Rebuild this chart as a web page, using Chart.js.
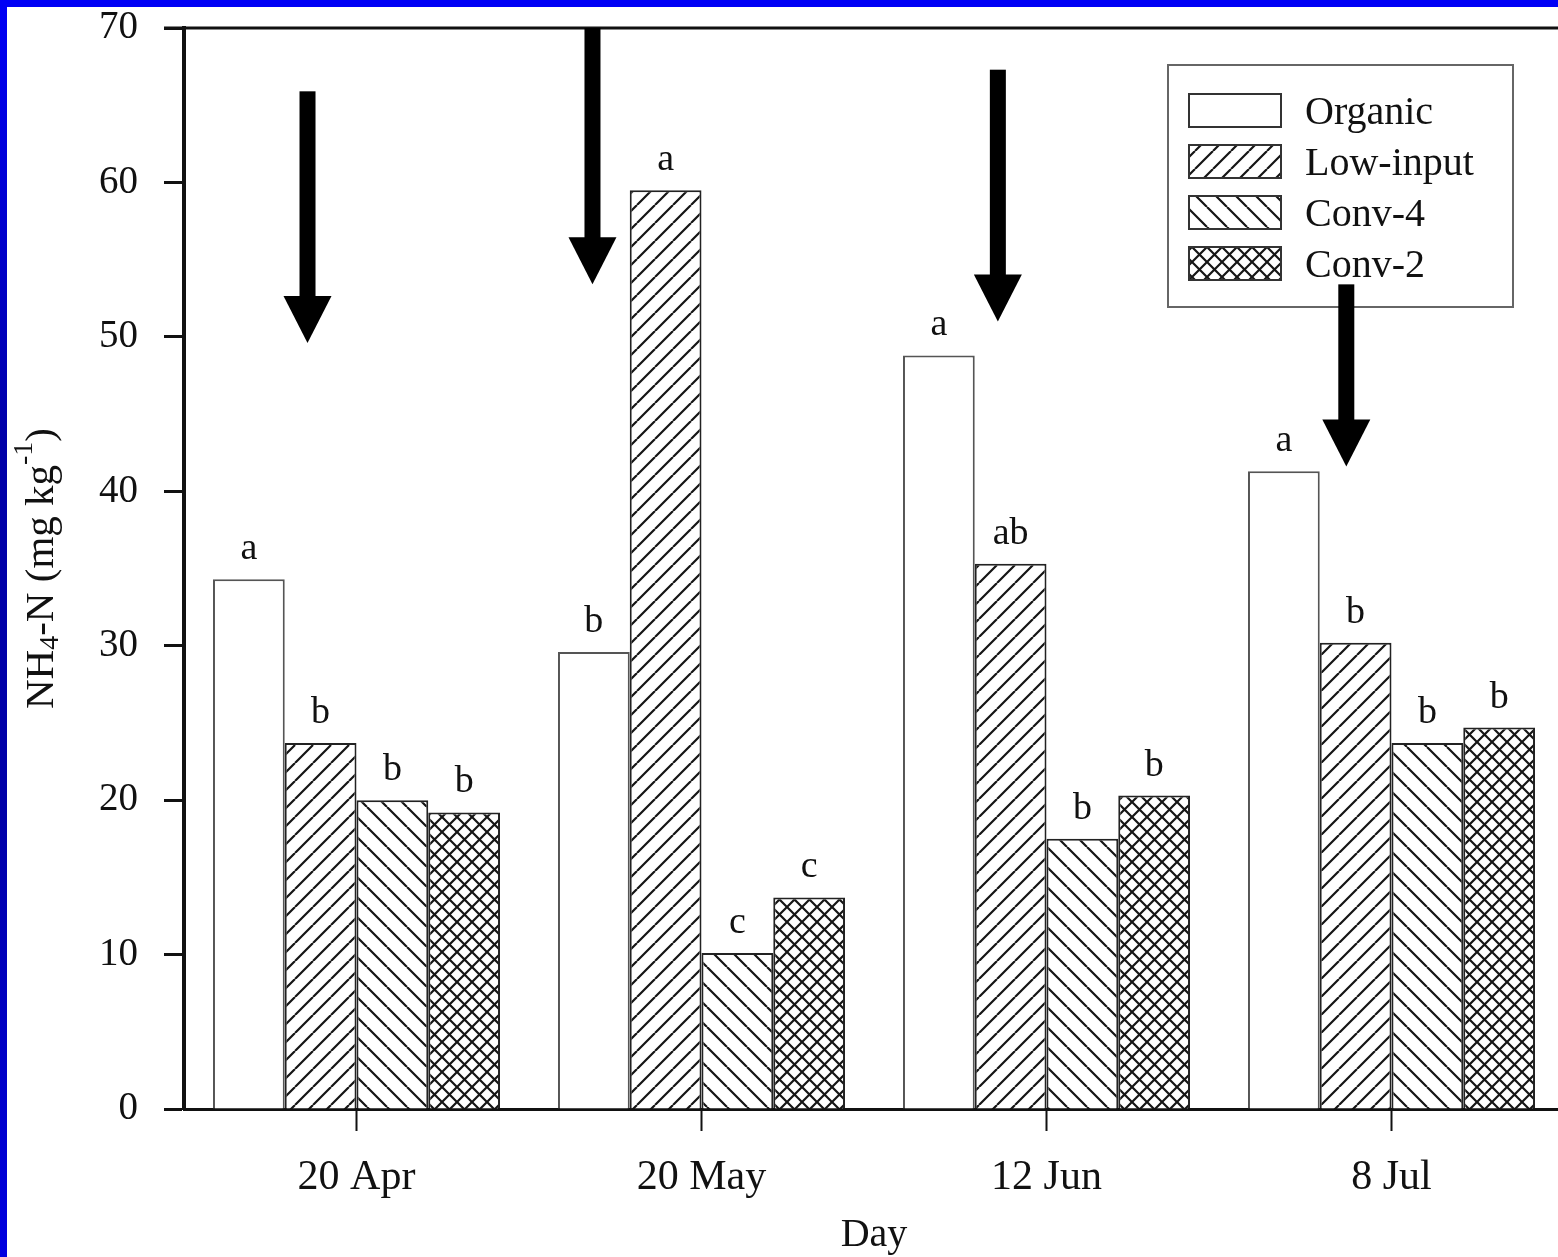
<!DOCTYPE html>
<html>
<head>
<meta charset="utf-8">
<script src="https://cdn.jsdelivr.net/npm/chart.js@4.4.1/dist/chart.umd.min.js"></script>
<style>
  html, body { margin: 0; padding: 0; }
  body {
    width: 1558px; height: 1257px; overflow: hidden; position: relative;
    background: linear-gradient(to bottom, #0000f6 0%, #0000a8 35%, #0000a8 65%, #0000e0 100%);
  }
  #wrap { position: absolute; left: 7px; top: 7px; width: 1600px; height: 1260px; background: #fff; }
</style>
</head>
<body>
<div id="wrap"><canvas id="chart"></canvas></div>
<script>
const categories = ["20 Apr", "20 May", "12 Jun", "8 Jul"];
const seriesNames = ["Organic", "Low-input", "Conv-4", "Conv-2"];

const organic = [34.3, 29.6, 48.8, 41.3];
const lowInput = [23.7, 59.5, 35.3, 30.2];
const conv4 = [20.0, 10.1, 17.5, 23.7];
const conv2 = [19.2, 13.7, 20.3, 24.7];

// significance letters, one list per series
const organicLetters = ["a", "b", "a", "a"];
const lowInputLetters = ["b", "a", "ab", "b"];
const conv4Letters = ["b", "c", "b", "b"];
const conv2Letters = ["b", "c", "b", "b"];

// arrows: x as category position, y as data values
const arrowX = [-0.142, 0.684, 1.859, 2.869];
const arrowFrom = [65.9, 70, 67.3, 53.4];
const arrowTo = [49.6, 53.4, 51.0, 41.6];

const serif = "'Liberation Serif', 'Times New Roman', Times, serif";
const ink = "#111";

const ctx = document.getElementById("chart").getContext("2d");

function makePattern(kind, p) {
  const c = document.createElement("canvas");
  c.width = p;
  c.height = p;
  const g = c.getContext("2d");
  g.fillStyle = "#fff";
  g.fillRect(0, 0, p, p);
  g.strokeStyle = "#151515";
  g.lineWidth = 2.2;
  g.beginPath();
  for (const k of [-p, 0, p]) {
    if (kind === "fwd" || kind === "cross") { g.moveTo(k, p); g.lineTo(k + p, 0); }
    if (kind === "back" || kind === "cross") { g.moveTo(k, 0); g.lineTo(k + p, p); }
  }
  g.stroke();
  return ctx.createPattern(c, "repeat");
}

const fills = ["#ffffff", makePattern("fwd", 18), makePattern("back", 20), makePattern("cross", 15)];
const borders = ["#555", "#222", "#222", "#222"];
const values = [organic, lowInput, conv4, conv2];
const letters = [organicLetters, lowInputLetters, conv4Letters, conv2Letters];

/*----- letters above bars -----*/
const letterPlugin = {
  id: "letters",
  afterDatasetsDraw(chart) {
    const c = chart.ctx;
    c.save();
    c.font = "38px " + serif;
    c.fillStyle = ink;
    c.textAlign = "center";
    c.textBaseline = "alphabetic";
    chart.data.datasets.forEach((ds, i) => {
      chart.getDatasetMeta(i).data.forEach((el, j) => {
        c.fillText(letters[i][j], el.x, el.y - 20);
      });
    });
    c.restore();
  },
};

/*----- frame, legend, arrows, y title -----*/
const extrasPlugin = {
  id: "extras",
  afterDraw(chart) {
    const c = chart.ctx;
    const ca = chart.chartArea;
    const sx = chart.scales.x;
    const sy = chart.scales.y;
    c.save();

    // top frame line
    c.strokeStyle = ink;
    c.lineWidth = 3;
    c.beginPath();
    c.moveTo(ca.left - 20, ca.top);
    c.lineTo(ca.right, ca.top);
    c.stroke();

    // legend
    const lx = ca.left + 984;
    const ly = ca.top + 37;
    c.fillStyle = "#fff";
    c.fillRect(lx, ly, 345, 242);
    c.strokeStyle = "#666";
    c.lineWidth = 2;
    c.strokeRect(lx, ly, 345, 242);
    c.font = "40px " + serif;
    c.textBaseline = "middle";
    c.textAlign = "left";
    seriesNames.forEach((name, i) => {
      const ry = ly + 29 + i * 51;
      c.fillStyle = fills[i];
      c.fillRect(lx + 21, ry, 92, 33);
      c.strokeStyle = "#333";
      c.lineWidth = 2;
      c.strokeRect(lx + 21, ry, 92, 33);
      c.fillStyle = ink;
      c.fillText(name, lx + 137, ry + 19);
    });

    // arrows
    c.fillStyle = "#000";
    for (let i = 0; i < arrowX.length; i++) {
      const x = sx.getPixelForValue(arrowX[i]);
      const y1 = sy.getPixelForValue(arrowFrom[i]);
      const y2 = sy.getPixelForValue(arrowTo[i]);
      c.fillRect(x - 8, y1, 16, y2 - 46 - y1);
      c.beginPath();
      c.moveTo(x - 24, y2 - 47);
      c.lineTo(x + 24, y2 - 47);
      c.lineTo(x, y2);
      c.closePath();
      c.fill();
    }

    // y axis title with sub/superscript
    const parts = [
      { t: "NH", s: 41, dy: 0 },
      { t: "4", s: 28, dy: 9 },
      { t: "-N (mg kg", s: 41, dy: 0 },
      { t: "-1", s: 28, dy: -17 },
      { t: ")", s: 41, dy: 0 },
    ];
    let total = 0;
    parts.forEach((p) => {
      c.font = p.s + "px " + serif;
      p.w = c.measureText(p.t).width;
      total += p.w;
    });
    c.translate(35, (ca.top + ca.bottom) / 2);
    c.rotate(-Math.PI / 2);
    c.fillStyle = ink;
    c.textAlign = "left";
    c.textBaseline = "middle";
    let px = -total / 2;
    parts.forEach((p) => {
      c.font = p.s + "px " + serif;
      c.fillText(p.t, px, p.dy);
      px += p.w;
    });
    c.restore();
  },
};

new Chart(ctx, {
  type: "bar",
  data: {
    labels: categories,
    datasets: seriesNames.map((name, i) => ({
      label: name,
      data: values[i],
      backgroundColor: fills[i],
      borderColor: borders[i],
      borderWidth: 2,
      borderSkipped: "bottom",
      barPercentage: 1,
      categoryPercentage: 0.832,
    })),
  },
  options: {
    responsive: true,
    maintainAspectRatio: false,
    animation: false,
    layout: { padding: { top: 21, right: 43, left: 0, bottom: 0 } },
    plugins: { legend: { display: false }, tooltip: { enabled: false } },
    scales: {
      x: {
        offset: true,
        grid: { offset: false, drawOnChartArea: false, tickLength: 22, tickColor: ink, tickWidth: 2 },
        border: { color: ink, width: 3 },
        ticks: { font: { family: serif, size: 42 }, color: ink, padding: 22, maxRotation: 0 },
        title: { display: true, text: "Day", font: { family: serif, size: 40 }, color: ink, padding: { top: 0, bottom: 8 } },
        afterFit(s) { s.height = 158; s.paddingLeft = 0; s.paddingRight = 0; },
      },
      y: {
        min: 0,
        max: 70,
        ticks: { stepSize: 10, font: { family: serif, size: 39 }, color: ink, padding: 26 },
        grid: { drawOnChartArea: false, tickLength: 20, tickColor: ink, tickWidth: 3 },
        border: { color: ink, width: 4 },
        afterFit(s) { s.width = 177; s.paddingTop = 0; s.paddingBottom = 0; },
      },
    },
  },
  plugins: [letterPlugin, extrasPlugin],
});
</script>
</body>
</html>
